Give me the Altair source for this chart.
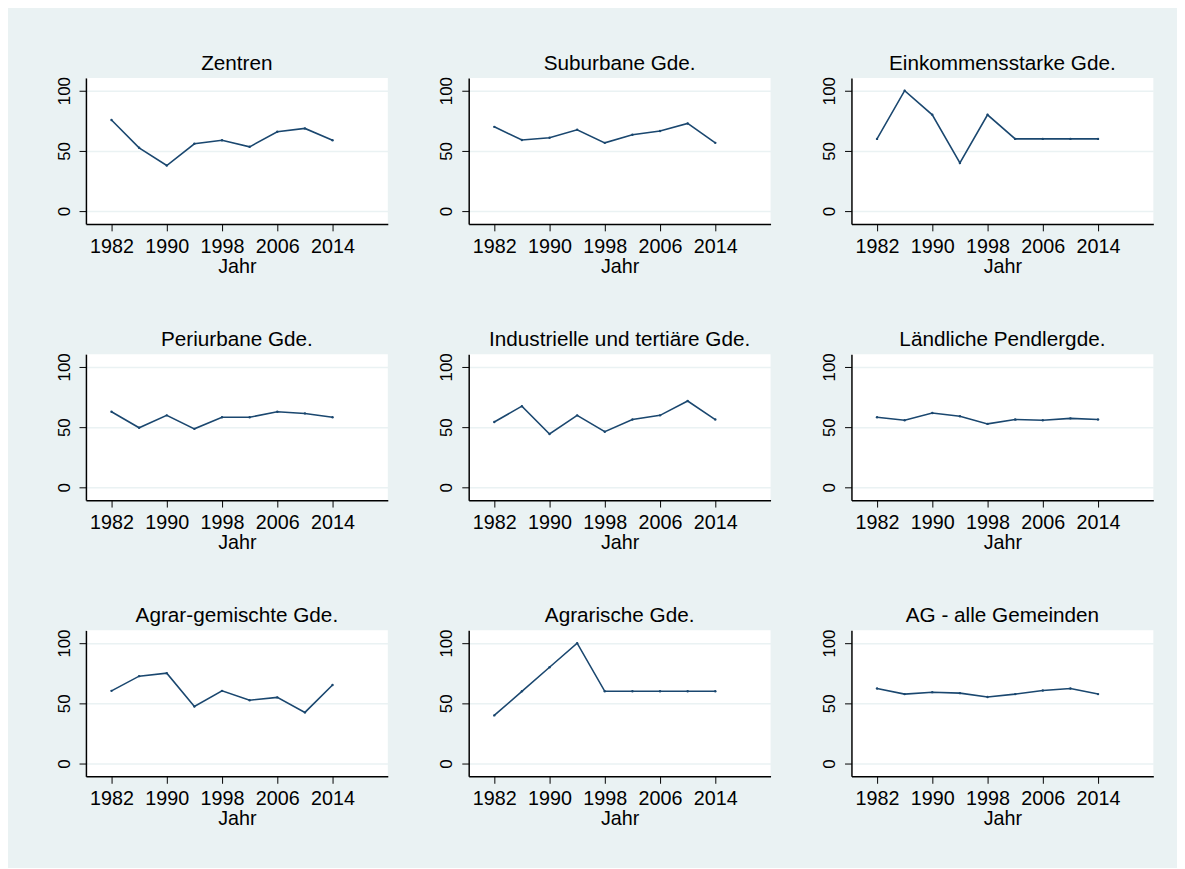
import altair as alt
import pandas as pd

years = [1982, 1986, 1990, 1994, 1998, 2002, 2006, 2010, 2014]
panels = [
    "Zentren", "Suburbane Gde.", "Einkommensstarke Gde.",
    "Periurbane Gde.", "Industrielle und tertiäre Gde.", "Ländliche Pendlergde.",
    "Agrar-gemischte Gde.", "Agrarische Gde.", "AG - alle Gemeinden",
]
zentren = [75.7, 52.6, 37.9, 55.9, 58.9, 53.4, 65.9, 68.7, 58.9]
suburbane = [70.0, 59.1, 61.0, 67.6, 56.7, 63.5, 66.5, 72.8, 56.7]
einkommensstarke = [60, 100, 80, 40, 80, 60, 60, 60, 60]
periurbane = [62.8, 49.5, 59.8, 48.6, 58.2, 58.2, 62.8, 61.4, 58.2]
industrielle = [54.3, 67.4, 44.3, 59.8, 46.2, 56.3, 59.8, 71.7, 56.3]
laendliche = [58.2, 55.7, 61.7, 59.0, 52.7, 56.3, 55.7, 57.3, 56.3]
agrar_gemischt = [60.4, 72.6, 75.1, 47.4, 60.4, 52.6, 55.0, 42.5, 65.3]
agrarische = [40, 60, 80, 100, 60, 60, 60, 60, 60]
ag_alle = [62.3, 57.7, 59.3, 58.5, 55.3, 57.7, 60.7, 62.3, 57.7]
series = [zentren, suburbane, einkommensstarke, periurbane, industrielle,
          laendliche, agrar_gemischt, agrarische, ag_alle]
x_ticks = [1982, 1990, 1998, 2006, 2014]
y_ticks = [0, 50, 100]

FONT = "Liberation Sans"
NAVY = "#1A476F"

charts = []
for name, vals in zip(panels, series):
    df = pd.DataFrame({"Jahr": years, "Wert": vals})
    base = alt.Chart(df).encode(
        x=alt.X("Jahr:Q",
                scale=alt.Scale(domain=[1978.3, 2022], nice=False, zero=False),
                axis=alt.Axis(values=x_ticks, format="d", title="Jahr", grid=False,
                              labelFontSize=20, titleFontSize=20, labelPadding=6,
                              titlePadding=0, tickSize=7, labelFlush=False)),
        y=alt.Y("Wert:Q",
                scale=alt.Scale(domain=[-10.6, 110.6], nice=False),
                axis=alt.Axis(values=y_ticks, title=None, labelAngle=270, grid=True,
                              labelFontSize=17, labelPadding=6, tickSize=7,
                              labelFlush=False)),
    )
    line = base.mark_line(color=NAVY, strokeWidth=1.6)
    pts = base.mark_circle(color=NAVY, size=6, opacity=1)
    charts.append(
        (line + pts).properties(
            width=306, height=148,
            title=alt.TitleParams(name, fontSize=21, fontWeight="normal",
                                  font=FONT, color="black", offset=3, anchor="middle"),
        )
    )

rows = [alt.hconcat(*charts[i:i + 3], spacing=51) for i in range(0, 9, 3)]
chart = alt.vconcat(*rows, spacing=53).properties(
    background="#EAF2F3",
    padding={"left": 48, "top": 39, "right": 24, "bottom": 34},
).configure_view(
    stroke=None, fill="white"
).configure_axis(
    domainColor="black", domainWidth=1.5, tickColor="black", tickWidth=1,
    labelColor="black", titleColor="black", labelFont=FONT, titleFont=FONT,
    titleFontWeight="normal", gridColor="#EAF2F3", gridWidth=1.5,
)

chart.save("out.html", embed_options={"renderer": "svg", "actions": False})
